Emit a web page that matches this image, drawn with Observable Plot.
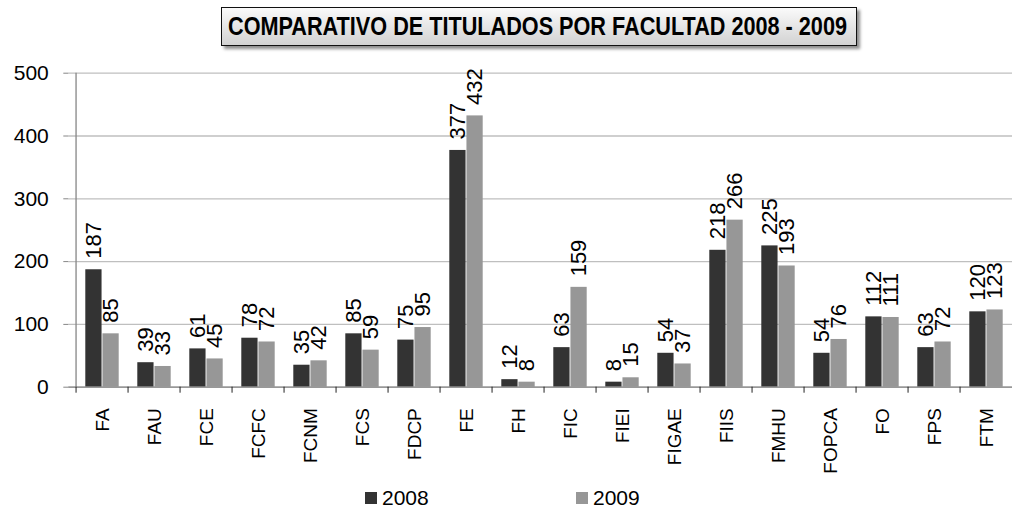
<!DOCTYPE html>
<html>
<head>
<meta charset="utf-8">
<script src="https://cdn.jsdelivr.net/npm/d3@7"></script>
<script src="https://cdn.jsdelivr.net/npm/@observablehq/plot@0.6"></script>
<style>
  html, body { margin: 0; padding: 0; background: #fff; width: 1012px; height: 508px; overflow: hidden; font-family: "Liberation Sans", Arial, sans-serif; }
  #title { position: relative; height: 50px; }
  #titlebox { position: absolute; left: 221px; top: 7px; width: 634px; height: 37px; border: 1.5px solid #111;
    background: linear-gradient(#fafafa, #d2d2d2); box-shadow: 3px 3px 3px rgba(0,0,0,0.45); overflow: visible; }
  #titletext { position: absolute; left: 6px; top: 3px; white-space: nowrap; font-weight: bold; font-size: 26px;
    font-family: "Liberation Sans Narrow", "Liberation Sans", Arial, sans-serif; color: #000; transform-origin: 0 0; }
  #chart { height: 410px; }
  #legend { position: relative; height: 48px; font-size: 21px; }
  .sw { position: absolute; width: 12px; height: 12px; top: 32px; }
  .lt { position: absolute; top: 26px; line-height: 24px; color: #000; }
</style>
</head>
<body>
<div id="title"><div id="titlebox"><span id="titletext"></span></div></div>
<div id="chart"></div>
<div id="legend"></div>
<script>
const titleText = "COMPARATIVO DE TITULADOS POR FACULTAD 2008 - 2009";
const categories = ["FA","FAU","FCE","FCFC","FCNM","FCS","FDCP","FE","FH","FIC","FIEI","FIGAE","FIIS","FMHU","FOPCA","FO","FPS","FTM"];
const values2008 = [187,39,61,78,35,85,75,377,12,63,8,54,218,225,54,112,63,120];
const values2009 = [85,33,45,72,42,59,95,432,8,159,15,37,266,193,76,111,72,123];
const seriesNames = ["2008","2009"];
const seriesColors = ["#333333","#979797"];
const yTicks = [0,100,200,300,400,500];

const data = categories.map((c, i) => ({cat: c, a: values2008[i], b: values2009[i]}));

// title
const tt = document.getElementById("titletext");
tt.textContent = titleText;
const w = tt.getBoundingClientRect().width;
tt.style.transform = `scaleX(${619 / w})`;

const bw = (1020.5 - 68.3) / categories.length;
const pad = 9.3;
const barW = (bw - 2 * pad) / 2;

const chart = Plot.plot({
  width: 1012,
  height: 410,
  marginTop: 22.7,
  marginBottom: 73.3,
  marginLeft: 68.3,
  marginRight: 0,
  style: {fontFamily: "'Liberation Sans', Arial, sans-serif", background: "#fff", overflow: "visible"},
  x: {domain: categories, range: [68.3, 1020.5], padding: 0},
  y: {domain: [0, 500], range: [336.7, 22.7]},
  marks: [
    Plot.gridY(yTicks, {stroke: "#bfbfbf", strokeOpacity: 1, strokeWidth: 1.3}),
    Plot.axisY(yTicks, {tickSize: 5, tickPadding: 15, fontSize: 21, stroke: "#868686", fill: "#000", label: null}),
    Plot.barY(data, {x: "cat", y: "a", fill: seriesColors[0], insetLeft: pad, insetRight: pad + barW}),
    Plot.barY(data, {x: "cat", y: "b", fill: seriesColors[1], insetLeft: pad + barW, insetRight: pad}),
    Plot.ruleY([0], {stroke: "#868686", strokeWidth: 1.3}),
    Plot.ruleX([categories[0]], {y1: 0, y2: 500, dx: -bw / 2, stroke: "#868686", strokeWidth: 1.3}),
    Plot.axisX({tickSize: 6, text: null, dx: -bw / 2, stroke: "#222", label: null}),
    Plot.axisX({tickSize: 0, tickRotate: -90, tickPadding: 21, fontSize: 19, fill: "#000", label: null}),
    Plot.text(data, {x: "cat", y: "a", text: d => String(d.a), rotate: -90, textAnchor: "start", dx: -(barW / 2), dy: -11, fontSize: 22, fill: "#000"}),
    Plot.text(data, {x: "cat", y: "b", text: d => String(d.b), rotate: -90, textAnchor: "start", dx: barW / 2, dy: -11, fontSize: 22, fill: "#000"})
  ]
});
document.getElementById("chart").appendChild(chart);

// legend
const legend = document.getElementById("legend");
const legendX = [365, 576];
seriesNames.forEach((name, i) => {
  const sw = document.createElement("div");
  sw.className = "sw";
  sw.style.left = legendX[i] + "px";
  sw.style.background = seriesColors[i];
  legend.appendChild(sw);
  const lt = document.createElement("div");
  lt.className = "lt";
  lt.style.left = (legendX[i] + 17) + "px";
  lt.textContent = name;
  legend.appendChild(lt);
});
</script>
</body>
</html>
